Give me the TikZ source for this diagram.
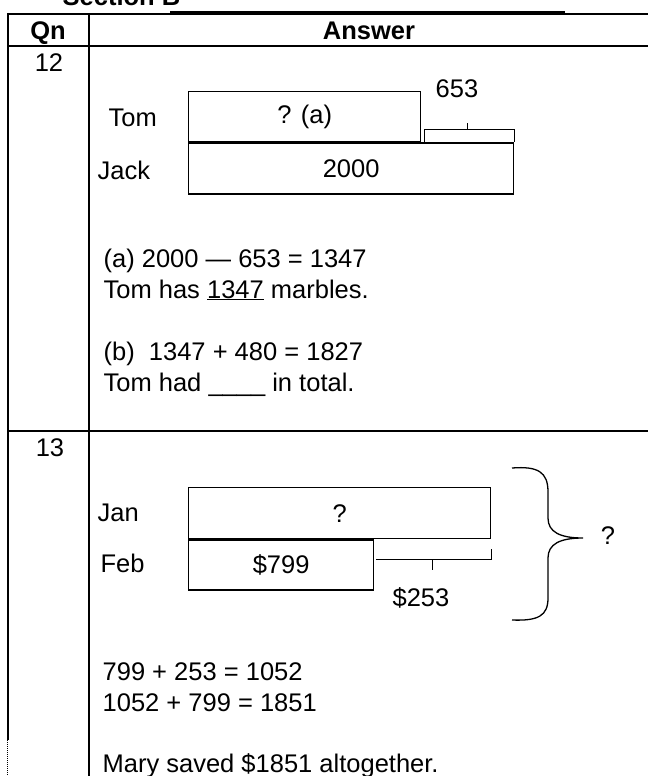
\documentclass[tikz,border=0pt]{standalone}
\usepackage{fontspec}
\setmainfont{Liberation Sans}
\usetikzlibrary{positioning, calc}
\newcommand{\ans}{\fontsize{25.5}{30}\selectfont}
\tikzset{
  every picture/.style={line width=1.3pt},
  grid/.style={line width=2pt},
  bar/.style={draw, line width=1.3pt, inner sep=0pt, anchor=north west, font=\ans},
  lbl/.style={anchor=base west, inner sep=0pt, font=\ans},
  head/.style={anchor=base, inner sep=0pt, font=\ans\bfseries},
  brk/.style={line width=1.3pt},
}

\begin{document}
\begin{tikzpicture}[x=1pt, y=-1pt]
  \useasboundingbox (0,0) rectangle (648,776);
  \clip (0,0) rectangle (648,776);
  % table frame
  \node[head, anchor=base west] (section) at (62,6) {Section B};
  \draw[line width=3pt] (170,12.5) -- (565,12.5);
  \foreach \y in {14,46,431}
    \draw[grid] (7.5,\y) -- (648,\y);
  \draw[grid] (7.5,13) -- (7.5,740);
  \draw[line width=1pt, densely dotted] (7.5,740) -- (7.5,776);
  \draw[grid] (89,13) -- (89,776);
  \node[head] (qn) at (48,40) {Qn};
  \node[head] (answer) at (369,40) {Answer};
  \node[head, font=\ans] (q12) at (49,71) {12};
  \node[head, font=\ans] (q13) at (50,456) {13};
  % question 12
  \node[lbl] (tom) at (108,126) {Tom};
  \node[lbl] (jack) at (97,179) {Jack};
  \node[bar, minimum width=232pt, minimum height=50pt] (tomBar) at (188,91) {? (a)};
  \node[bar, minimum width=325pt, minimum height=51pt] (jackBar) at (tomBar.south west) {2000};
  \draw[brk] ($(tomBar.south east)+(3,0)$) |- ($(jackBar.north east)+(0,-13)$) -- (jackBar.north east);
  \draw[brk] ($(tomBar.south east)!0.5!(jackBar.north east)+(0,-13)$) -- ++(0,-6);
  \node[lbl, anchor=base] (diff) at (457,97) {653};
  \node[lbl] (partA) at (103,267) {(a) 2000 --- 653 = 1347};
  \node[lbl] (ansA) at (103,298) {Tom has \underline{1347} marbles.};
  \node[lbl] (partB) at (103,360) {(b) \ 1347 + 480 = 1827};
  \node[lbl] (ansB) at (103,391) {Tom had \_\_\_\_ in total.};
  % question 13
  \node[lbl] (jan) at (97,521) {Jan};
  \node[lbl] (feb) at (100,572) {Feb};
  \node[bar, minimum width=302pt, minimum height=51pt] (janBar) at (188,487) {?};
  \node[bar, minimum width=185pt, minimum height=50pt] (febBar) at (janBar.south west) {\$799};
  \draw[brk] ($(janBar.south east)+(0,10)$) |- ($(febBar.north east)+(2,20)$);
  \draw[brk] ($(febBar.north east)!0.5!(janBar.south east)+(0,20)$) -- ++(0,11);
  \node[lbl, anchor=base] (more) at (421,606) {\$253};
  \draw[brk] (512,468) .. controls (538,466) and (548,472) .. (548,492) -- (548,518)
    .. controls (548,532) and (560,538) .. (583,538)
    .. controls (560,538) and (548,544) .. (548,558) -- (548,598)
    .. controls (548,616) and (538,621) .. (512,620);
  \node[lbl, anchor=base] (total) at (608,544) {?};
  \node[lbl] (sumA) at (102,680) {799 + 253 = 1052};
  \node[lbl] (sumB) at (102,711) {1052 + 799 = 1851};
  \node[lbl] (result) at (102,772) {Mary saved \$1851 altogether.};
\end{tikzpicture}
\end{document}
